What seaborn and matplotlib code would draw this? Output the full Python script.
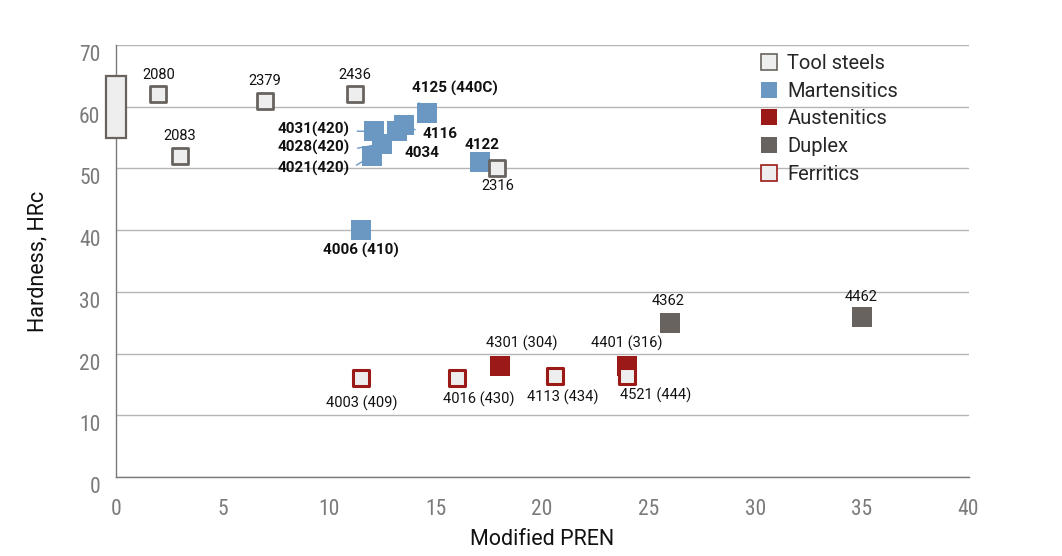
import matplotlib
matplotlib.use("Agg")
import matplotlib.pyplot as plt
from matplotlib import font_manager
from matplotlib.lines import Line2D
from matplotlib.transforms import ScaledTranslation
import pandas as pd
import seaborn as sns

# --- data ---
tool_range_x = [0]
tool_range_low = [55]
tool_range_high = [65]

tool_names = ["2080", "2083", "2379", "2436", "2316"]
tool_pren = [2, 3, 7, 11.2, 17.9]
tool_hrc = [62, 52, 61, 62, 50]

mart_names = ["4006 (410)", "4021(420)", "4028(420)", "4031(420)", "4034", "4116", "4125 (440C)", "4122"]
mart_pren = [11.5, 12.0, 12.5, 12.1, 13.2, 13.5, 14.6, 17.1]
mart_hrc = [40, 52, 54, 56, 56, 57, 59, 51]

aus_names = ["4301 (304)", "4401 (316)"]
aus_pren = [18, 24]
aus_hrc = [18, 18]

dup_names = ["4362", "4462"]
dup_pren = [26, 35]
dup_hrc = [25, 26]

fer_names = ["4003 (409)", "4016 (430)", "4113 (434)", "4521 (444)"]
fer_pren = [11.5, 16, 20.6, 24]
fer_hrc = [16, 16, 16.4, 16.3]

# colours
LIGHT = "#eeeeee"
DARK = "#68635e"
BLUE = "#6b97c3"
RED = "#9b1a17"

sns.set_theme(style="white")
available = {f.name for f in font_manager.fontManager.ttflist}


def pick(cands):
    for c in cands:
        if c in available:
            return c
    return "DejaVu Sans"


NARROW = pick(["Roboto Condensed", "Liberation Sans Narrow", "Roboto"])
WIDE = pick(["Roboto", "Liberation Sans"])
plt.rcParams["font.family"] = [NARROW, "DejaVu Sans"]
wide_fam = [WIDE, "DejaVu Sans"]

fig = plt.figure(figsize=(10.62, 5.56), dpi=100)
ax = fig.add_axes([0.109, 0.142, 0.803, 0.777])

tools = pd.DataFrame({"name": tool_names, "pren": tool_pren, "hrc": tool_hrc})
mart = pd.DataFrame({"name": mart_names, "pren": mart_pren, "hrc": mart_hrc})
aus = pd.DataFrame({"name": aus_names, "pren": aus_pren, "hrc": aus_hrc})
dup = pd.DataFrame({"name": dup_names, "pren": dup_pren, "hrc": dup_hrc})
fer = pd.DataFrame({"name": fer_names, "pren": fer_pren, "hrc": fer_hrc})

# tool steel hardness range box at PREN 0
heights = [h - l for h, l in zip(tool_range_high, tool_range_low)]
ax.bar(tool_range_x, heights, bottom=tool_range_low, width=0.95,
       color=LIGHT, edgecolor=DARK, linewidth=1.6, clip_on=False, zorder=4)

sns.scatterplot(data=mart, x="pren", y="hrc", marker="s", s=195, color=BLUE,
                linewidth=0, legend=False, ax=ax, zorder=3)
sns.scatterplot(data=aus, x="pren", y="hrc", marker="s", s=195, color=RED,
                linewidth=0, legend=False, ax=ax, zorder=3)
sns.scatterplot(data=dup, x="pren", y="hrc", marker="s", s=195, color=DARK,
                linewidth=0, legend=False, ax=ax, zorder=3)
sns.scatterplot(data=tools, x="pren", y="hrc", marker="s", s=135, color=LIGHT,
                edgecolor=DARK, linewidth=2.0, legend=False, ax=ax, zorder=4)
sns.scatterplot(data=fer, x="pren", y="hrc", marker="s", s=130, color=LIGHT,
                edgecolor=RED, linewidth=2.2, legend=False, ax=ax, zorder=4)

# label offsets in pixels (dx, baseline dy), alignment, leader anchor
PX = 0.72
label_style = {
    "2080": (0, 15.7, "center", None),
    "2083": (0, 15.7, "center", None),
    "2379": (0, 15.7, "center", None),
    "2436": (0, 15.7, "center", None),
    "2316": (0, -21.7, "center", None),
    "4125 (440C)": (28, 20, "center", (0.02, 0.0)),
    "4031(420)": (-24, -2.3, "right", (1.0, 0.4)),
    "4028(420)": (-32, -8.4, "right", (1.0, 0.4)),
    "4021(420)": (-22, -16.6, "right", (1.0, 0.45)),
    "4116": (18.7, -12.6, "left", (0.0, 0.6)),
    "4034": (7.7, -25.6, "left", (0.0, 1.0)),
    "4122": (1.7, 13.7, "center", None),
    "4006 (410)": (0, -25, "center", None),
    "4362": (-2, 17.7, "center", None),
    "4462": (-1, 15.6, "center", None),
    "4301 (304)": (22, 18.2, "center", None),
    "4401 (316)": (-1, 18.2, "center", None),
    "4003 (409)": (1, -29, "center", None),
    "4016 (430)": (22, -25.7, "center", None),
    "4113 (434)": (8, -25.4, "center", None),
    "4521 (444)": (28, -23.3, "center", None),
}


def label_points(df, bold=False, leader_color=BLUE):
    for _, row in df.iterrows():
        dx, dy, ha, leader = label_style[row["name"]]
        kw = dict(xy=(row["pren"], row["hrc"]), xytext=(dx * PX, dy * PX),
                  textcoords="offset points", ha=ha, va="baseline",
                  fontsize=11 if bold else 10.5, color="#111111", family=wide_fam,
                  fontweight="bold" if bold else "normal", zorder=6)
        if leader is not None:
            kw["arrowprops"] = dict(arrowstyle="-", color=leader_color, lw=1.0,
                                    relpos=leader, shrinkA=3, shrinkB=0)
        ax.annotate(row["name"], **kw)


label_points(tools)
label_points(mart, bold=True)
label_points(aus)
label_points(dup)
label_points(fer)

ax.set_xlim(0, 40)
ax.set_ylim(0, 70)
ax.set_xticks(range(0, 41, 5))
ax.set_yticks(range(0, 71, 10))
ax.yaxis.grid(True, color="#b5b5b5", linewidth=1.0)
ax.xaxis.grid(False)
ax.set_axisbelow(True)
for side in ["top", "right"]:
    ax.spines[side].set_visible(False)
for side in ["left", "bottom"]:
    ax.spines[side].set_color("#7a7a7a")
    ax.spines[side].set_linewidth(1.0)
ax.tick_params(axis="both", length=0, labelsize=15.5, labelcolor="#7a7a7a")
ax.tick_params(axis="y", pad=11)
ax.tick_params(axis="x", pad=16)

# y tick labels sit a little below their gridlines in the original
shift = ScaledTranslation(0, -8 / 100, fig.dpi_scale_trans)
for lab in ax.get_yticklabels():
    lab.set_transform(lab.get_transform() + shift)

ax.set_xlabel("Modified PREN", fontsize=15.5, color="#111111", labelpad=6, family=wide_fam)
ax.set_ylabel("Hardness, HRc", fontsize=15.5, color="#111111", labelpad=22, family=wide_fam)

handles = [
    Line2D([], [], marker="s", linestyle="none", markersize=12, markerfacecolor=LIGHT,
           markeredgecolor=DARK, markeredgewidth=1.2, label="Tool steels"),
    Line2D([], [], marker="s", linestyle="none", markersize=12, markerfacecolor=BLUE,
           markeredgecolor=BLUE, markeredgewidth=0, label="Martensitics"),
    Line2D([], [], marker="s", linestyle="none", markersize=12, markerfacecolor=RED,
           markeredgecolor=RED, markeredgewidth=0, label="Austenitics"),
    Line2D([], [], marker="s", linestyle="none", markersize=12, markerfacecolor=DARK,
           markeredgecolor=DARK, markeredgewidth=0, label="Duplex"),
    Line2D([], [], marker="s", linestyle="none", markersize=12, markerfacecolor=LIGHT,
           markeredgecolor=RED, markeredgewidth=1.2, label="Ferritics"),
]
ax.legend(handles=handles, loc="upper left", bbox_to_anchor=(0.745, 0.998),
          frameon=False, handlelength=1.0, handletextpad=0.4,
          labelspacing=0.43, borderaxespad=0,
          prop=font_manager.FontProperties(family=wide_fam, size=14.5))

fig.savefig("out.png", dpi=100)
